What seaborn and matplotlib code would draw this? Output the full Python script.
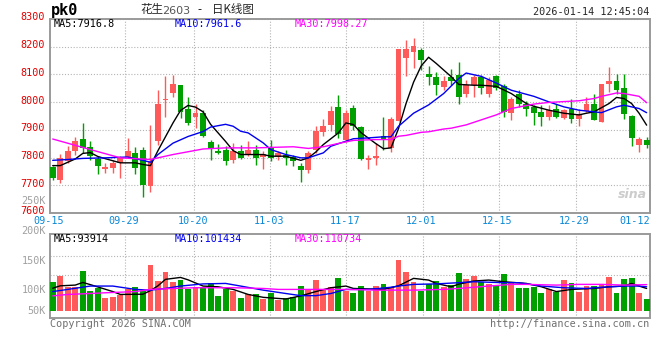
import matplotlib
matplotlib.use("Agg")
import matplotlib.pyplot as plt
import matplotlib.transforms as mtransforms
import seaborn as sns
import pandas as pd
import numpy as np

# daily candles, index 0 = 09-15 ... 79 = 01-14
opens = [7765, 7719, 7787, 7823, 7868, 7837, 7795, 7760, 7762, 7782,
         7802, 7818, 7829, 7698, 7858, 8007, 8033, 8061, 7975, 7945,
         7962, 7857, 7825, 7826, 7791, 7823, 7811, 7826, 7801, 7839,
         7801, 7811, 7802, 7768, 7755, 7827, 7893, 7917, 7984, 7864,
         7979, 7911, 7790, 7797, 7879, 7835, 7931, 8161, 8182, 8188,
         8102, 8089, 8055, 8089, 8099, 8031, 8061, 8089, 8031, 8093,
         8057, 7962, 8031, 7995, 7983, 7965, 7948, 7975, 7944, 7975,
         7939, 7969, 7993, 7930, 8067, 8075, 8051, 7950, 7847, 7864]
closes = [7726, 7799, 7825, 7861, 7833, 7806, 7769, 7765, 7779, 7799,
          7824, 7762, 7701, 7789, 7993, 8011, 8064, 7965, 7925, 7960,
          7879, 7836, 7817, 7787, 7822, 7799, 7826, 7798, 7814, 7798,
          7815, 7797, 7786, 7755, 7815, 7897, 7915, 7969, 7885, 7962,
          7913, 7796, 7800, 7807, 7862, 7940, 8192, 8192, 8204, 8152,
          8089, 8061, 8075, 8076, 8019, 8061, 8089, 8052, 8081, 8051,
          7965, 8013, 7995, 7974, 7962, 7948, 7971, 7948, 7971, 7939,
          7957, 7993, 7936, 8064, 8075, 8043, 7957, 7869, 7867, 7846]
highs = [7770, 7813, 7840, 7873, 7925, 7861, 7805, 7781, 7790, 7805,
         7872, 7837, 7838, 7918, 8043, 8093, 8098, 8061, 8017, 7995,
         7971, 7864, 7848, 7840, 7851, 7844, 7858, 7847, 7823, 7863,
         7823, 7829, 7811, 7781, 7822, 7913, 7939, 7987, 8027, 7973,
         7991, 7913, 7811, 7853, 7946, 7946, 8192, 8224, 8231, 8194,
         8131, 8107, 8096, 8120, 8146, 8079, 8099, 8099, 8090, 8099,
         8067, 8019, 8043, 8004, 7989, 7989, 7989, 7995, 7977, 8011,
         7977, 8017, 8029, 8064, 8126, 8102, 8102, 7954, 7874, 7874]
lows = [7720, 7707, 7779, 7811, 7817, 7793, 7739, 7743, 7743, 7727,
        7798, 7739, 7659, 7677, 7846, 7948, 8019, 7942, 7919, 7908,
        7876, 7790, 7812, 7773, 7781, 7796, 7805, 7775, 7757, 7787,
        7793, 7775, 7769, 7712, 7743, 7815, 7879, 7897, 7870, 7857,
        7901, 7793, 7757, 7772, 7827, 7820, 7931, 8096, 8122, 8116,
        8062, 8025, 8043, 8061, 7995, 8017, 8019, 8031, 8019, 8043,
        7948, 7936, 7983, 7950, 7918, 7914, 7936, 7942, 7938, 7926,
        7914, 7965, 7936, 7930, 8037, 8031, 7939, 7840, 7819, 7835]
volumes = [121000, 147000, 99000, 99000, 167000, 83000, 96000, 54000, 58000, 65000,
           90000, 100000, 83000, 192000, 125000, 163000, 121000, 129000, 92000, 101000,
           100000, 117000, 64000, 90000, 83000, 54000, 72000, 70000, 50000, 74000,
           46000, 53000, 60000, 104000, 92000, 129000, 92000, 99000, 138000, 83000,
           76000, 104000, 83000, 104000, 113000, 100000, 213000, 163000, 121000, 83000,
           113000, 125000, 100000, 108000, 158000, 133000, 146000, 121000, 113000, 108000,
           154000, 121000, 96000, 96000, 100000, 75000, 92000, 79000, 129000, 117000,
           79000, 104000, 104000, 111000, 142000, 75000, 133000, 138000, 75000, 50000]

# price moving averages (candle index, value)
ma5_x = [0, 1, 3, 4, 5, 6, 7, 9, 11, 12, 13, 14, 16, 17, 18, 19, 20, 21, 23, 24,
         25, 26, 28, 29, 31, 33, 34, 35, 36, 38, 39, 40, 41, 43, 44, 45, 46, 47, 48, 49,
         50, 51, 52, 53, 54, 56, 57, 59, 61, 63, 64, 66, 68, 70, 71, 72, 73, 74, 75, 76,
         77, 78, 79]
ma5_y = [7771, 7771, 7795, 7815, 7818, 7804, 7796, 7781, 7781, 7775, 7771, 7825, 7925, 7970, 7988, 7982, 7965, 7920, 7858, 7825,
         7811, 7811, 7811, 7805, 7805, 7790, 7799, 7820, 7847, 7889, 7925, 7919, 7890, 7850, 7832, 7835, 7905, 7995, 8072, 8130,
         8162, 8140, 8116, 8092, 8064, 8061, 8061, 8057, 8031, 7995, 7985, 7971, 7960, 7954, 7960, 7965, 7980, 7995, 8017, 8013,
         7995, 7960, 7917]
ma10_x = [0, 2, 4, 7, 10, 12, 13, 14, 16, 18, 20, 21, 23, 24, 25, 26, 28, 29, 31, 33,
          34, 36, 37, 39, 40, 42, 44, 45, 46, 48, 50, 52, 54, 55, 57, 59, 61, 64, 66, 68,
          70, 72, 73, 75, 76, 78, 79]
ma10_y = [7790, 7793, 7797, 7799, 7802, 7790, 7783, 7811, 7852, 7876, 7894, 7910, 7920, 7913, 7895, 7889, 7853, 7829, 7811, 7799,
          7799, 7817, 7841, 7859, 7868, 7871, 7875, 7875, 7913, 7960, 7990, 8031, 8085, 8105, 8093, 8069, 8043, 8021, 8001, 7983,
          7971, 7965, 7962, 7983, 7989, 7977, 7962]
ma30_x = [0, 5, 9, 13, 16, 20, 23, 27, 32, 34, 36, 38, 40, 43, 45, 46, 47, 49, 50, 52,
          53, 55, 57, 59, 61, 64, 66, 68, 70, 72, 73, 75, 76, 78, 79]
ma30_y = [7867, 7829, 7799, 7793, 7811, 7831, 7835, 7835, 7839, 7833, 7839, 7851, 7862, 7865, 7865, 7877, 7880, 7891, 7893, 7903,
          7906, 7918, 7936, 7954, 7977, 7993, 7999, 8002, 8005, 8013, 8021, 8033, 8031, 8021, 7998]

# volume moving averages (candle index, volume)
vma5_x = [0, 1, 3, 4, 5, 8, 9, 12, 13, 14, 15, 17, 18, 20, 22, 24, 26, 28, 31, 33,
          35, 37, 39, 40, 44, 46, 48, 50, 51, 53, 54, 56, 58, 60, 63, 65, 67, 69, 72, 74,
          76, 77, 78, 79]
vma5_y = [95000, 105000, 108000, 119000, 110000, 81000, 69000, 70000, 85000, 105000,
          132000, 140000, 130000, 104000, 101000, 90000, 69000, 57000, 50000, 63000,
          81000, 97000, 104000, 94000, 90000, 105000, 136000, 129000, 115000, 101000,
          112000, 125000, 129000, 122000, 115000, 101000, 81000, 90000, 94000, 101000,
          104000, 115000, 104000, 94000]
vma10_x = [0, 2, 5, 8, 11, 13, 15, 17, 20, 23, 25, 28, 31, 33, 35, 37, 39, 42, 45, 46,
           48, 51, 54, 56, 60, 62, 65, 68, 71, 73, 76, 78, 79]
vma10_y = [81000, 90000, 104000, 104000, 90000, 87000, 94000, 104000, 113000, 115000,
           104000, 87000, 73000, 64000, 64000, 73000, 90000, 90000, 99000, 104000,
           111000, 113000, 118000, 122000, 118000, 118000, 104000, 97000, 94000, 99000,
           104000, 104000, 101000]
vma30_x = [0, 2, 5, 7, 11, 13, 16, 19, 24, 28, 30, 37, 39, 43, 48, 52, 54, 56, 58, 61,
           63, 67, 70, 73, 76, 79]
vma30_y = [63000, 69000, 73000, 76000, 81000, 90000, 94000, 97000, 97000, 94000,
           90000, 90000, 90000, 87000, 87000, 90000, 94000, 99000, 104000, 111000,
           111000, 108000, 111000, 111000, 108000, 110000]

date_labels = ["09-15", "09-29", "10-20", "11-03", "11-17", "12-01", "12-15", "12-29", "01-12"]
price_ticks = [7600, 7700, 7800, 7900, 8000, 8100, 8200, 8300]
vol_labels = ["250K", "200K", "150K", "100K", "50K"]

RED = "#ff5a5a"
GREEN = "#00a000"
GRID = "#b4b4b4"
FRAME = "#9a9a9a"
BLUE = "#0000f0"
MAGENTA = "#ff00ff"

sns.set_theme(style="white")
plt.rcParams['font.family'] = ['DejaVu Sans Mono', 'Noto Sans CJK SC']

W, H = 660, 360
fig = plt.figure(figsize=(6.6, 3.6), dpi=100)


def px_axes(x0, y0, x1, y1):
    return fig.add_axes([x0 / W, 1 - y1 / H, (x1 - x0) / W, (y1 - y0) / H])


def ftext(x, y, s, **kw):
    return fig.text(x / W, 1 - y / H, s, **kw)


ax = px_axes(50, 19, 650, 213)
axv = px_axes(50, 234, 650, 318)

df = pd.DataFrame({"open": opens, "close": closes, "high": highs, "low": lows,
                   "volume": volumes})
df["idx"] = np.arange(len(df))
colors = np.where(df["close"] >= df["open"], RED, GREEN)

xlim = (-0.36, 79.45)
# gridline spots (candle units) under the date labels
grid_pos = [9.6, 18.85, 28.93, 39.05, 49.2, 59.3, 69.55]
label_pos = [-0.49, 9.45, 18.65, 28.75, 38.85, 49.0, 59.1, 69.35, 77.4]

# ---- price panel
ax.vlines(df["idx"], df["low"], df["high"], colors=colors, lw=1.0, zorder=3)
body_lo = np.minimum(df["open"], df["close"])
body_h = np.maximum((df["close"] - df["open"]).abs(), 3)
ax.bar(df["idx"], body_h, bottom=body_lo, width=0.78, color=colors,
       linewidth=0, zorder=4)

sns.lineplot(x=ma5_x, y=ma5_y, color="black", lw=1.0, ax=ax, zorder=5)
sns.lineplot(x=ma10_x, y=ma10_y, color=BLUE, lw=1.0, ax=ax, zorder=5)
sns.lineplot(x=ma30_x, y=ma30_y, color=MAGENTA, lw=1.0, ax=ax, zorder=5)

ax.set_xlim(*xlim)
ax.set_ylim(7600, 8300)
ax.set_yticks(price_ticks)
ax.set_yticklabels([str(t) for t in price_ticks], color="#e00000", fontsize=7.3)
ax.set_xticks(grid_pos)
ax.set_xticklabels([])
ax.tick_params(length=0, pad=3.5)
ax.grid(True, color=GRID, ls=(0, (1, 1.6)), lw=0.8)
ax.set_axisbelow(True)
shift = mtransforms.ScaledTranslation(0, 0.025, fig.dpi_scale_trans)
for lab in ax.get_yticklabels():
    lab.set_transform(lab.get_transform() + shift)
for lab, pos in zip(date_labels, label_pos):
    ax.text(pos, -7.5 / 194, lab, transform=ax.get_xaxis_transform(), ha="center",
            va="center", color="#0a88d8", fontsize=7.3, clip_on=False)
ax.set_xlabel("")
ax.set_ylabel("")

ax.text(0.994, 0.06, "sina", transform=ax.transAxes, ha="right", va="bottom",
        fontsize=9, style="italic", weight="bold", color="#cccccc",
        family="DejaVu Sans", zorder=1)

# ---- volume panel
axv.bar(df["idx"], df["volume"], width=0.78, color=colors, linewidth=0, zorder=3)
sns.lineplot(x=vma5_x, y=vma5_y, color="black", lw=1.0, ax=axv, zorder=5)
sns.lineplot(x=vma10_x, y=vma10_y, color=BLUE, lw=1.0, ax=axv, zorder=5)
sns.lineplot(x=vma30_x, y=vma30_y, color=MAGENTA, lw=1.0, ax=axv, zorder=5)

axv.set_xlim(*xlim)
axv.set_ylim(-29200, 321100)
axv.set_yticks([149000, 230000])
axv.set_yticklabels([])
axv.set_xticks(grid_pos)
axv.set_xticklabels([])
axv.tick_params(length=0)
axv.grid(True, color=GRID, ls=(0, (1, 1.6)), lw=0.8)
axv.set_axisbelow(True)
axv.set_xlabel("")
axv.set_ylabel("")

for a in (ax, axv):
    for sp in a.spines.values():
        sp.set_visible(True)
        sp.set_color(FRAME)
        sp.set_linewidth(1.4)

# ---- header and footer texts
ftext(51, 10, "pk0", fontsize=11, weight="bold", color="black", va="center")
cjk = ["Noto Sans CJK SC", "DejaVu Sans"]
ftext(140, 10, "花生", fontsize=8.3, family=cjk, va="center")
ftext(162, 10.5, "2603", fontsize=8, family="DejaVu Sans", color="#555555", va="center")
ftext(199, 10, "-", fontsize=8.3, family=cjk, va="center", ha="center")
ftext(212, 10, "日K线图", fontsize=8.3, family=cjk, va="center")
ftext(649, 12, "2026-01-14 12:45:04", fontsize=7.3, ha="right", va="center")

ftext(54, 24, "MA5:7916.8", fontsize=7.3, color="black", va="center")
ftext(175, 24, "MA10:7961.6", fontsize=7.3, color=BLUE, va="center")
ftext(295, 24, "MA30:7998.27", fontsize=7.3, color=MAGENTA, va="center")

ftext(54, 239, "MA5:93914", fontsize=7.3, color="black", va="center")
ftext(175, 239, "MA10:101434", fontsize=7.3, color=BLUE, va="center")
ftext(295, 239, "MA30:110734", fontsize=7.3, color=MAGENTA, va="center")

for lab, yy in zip(vol_labels, [201, 231, 261, 290, 311]):
    ftext(46, yy, lab, fontsize=7.3, color="#a0a0a0", ha="right", va="center")

ftext(50, 324, "Copyright 2026 SINA.COM", fontsize=7.3, color="#707070", va="center")
ftext(649, 324, "http://finance.sina.com.cn", fontsize=7.3, color="#707070",
      ha="right", va="center")

fig.savefig("out.png", dpi=100, facecolor="white")
